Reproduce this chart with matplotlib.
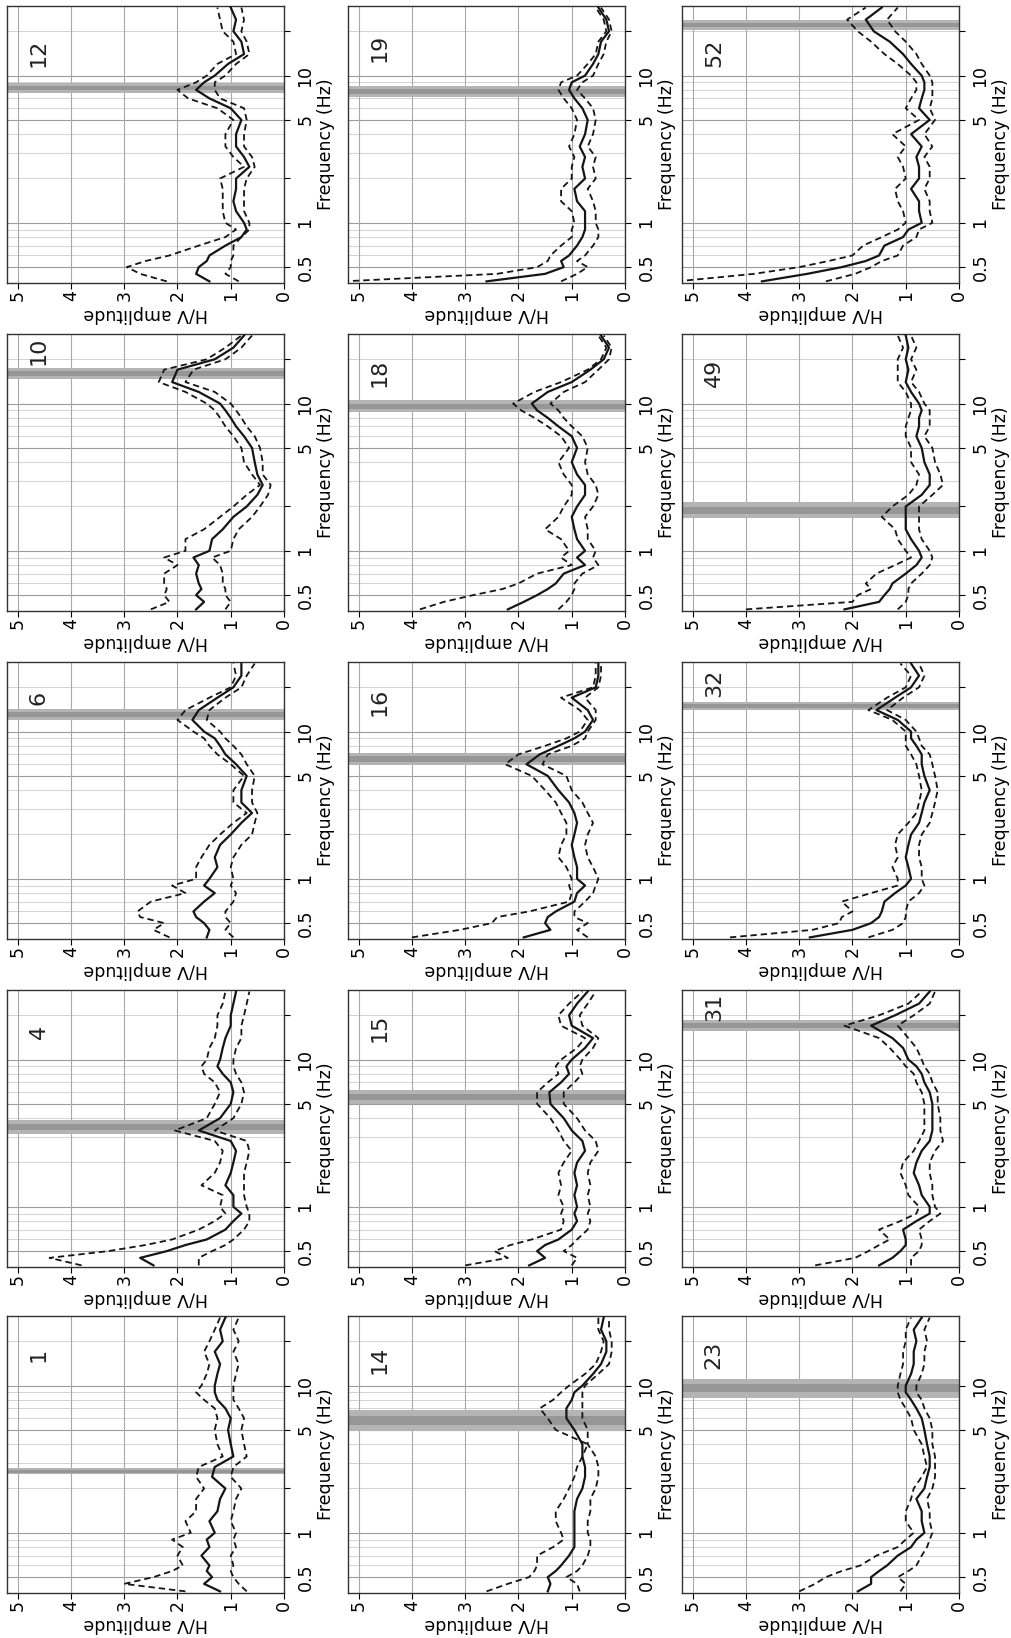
import numpy as np
import matplotlib
matplotlib.use('Agg')
import matplotlib.pyplot as plt
from matplotlib.ticker import NullLocator

plt.rcParams['font.family'] = ['DejaVu Sans']

# frequency samples (Hz) shared by all curves
freq = [0.4, 0.45, 0.5, 0.55, 0.6, 0.7, 0.8, 0.9, 1.0, 1.2, 1.4, 1.7, 2.0, 2.4, 2.8,
        3.3, 4.0, 5.0, 6.0, 7.0, 8.0, 9.0, 10, 12, 14, 17, 20, 24, 29]

# H/V mean, mean+std, mean-std for each site
mean_01 = [1.2, 1.5, 1.35, 1.45, 1.4, 1.55, 1.4, 1.45, 1.3, 1.4, 1.25, 1.2, 1.1, 1.35, 1.3, 0.95, 1.0, 1.05, 1.0, 1.1, 1.25, 1.3, 1.3, 1.25, 1.2, 1.3, 1.15, 1.2, 1.1]
upper_01 = [1.85, 3.0, 2.45, 2.1, 1.9, 2.0, 1.9, 2.1, 1.75, 1.85, 1.65, 1.65, 1.5, 1.65, 1.6, 1.15, 1.25, 1.3, 1.25, 1.3, 1.5, 1.65, 1.55, 1.45, 1.4, 1.5, 1.4, 1.3, 1.2]
lower_01 = [0.7, 0.85, 0.95, 1.0, 0.95, 1.0, 0.9, 0.95, 0.9, 1.0, 0.95, 0.9, 0.8, 1.0, 0.95, 0.7, 0.75, 0.8, 0.75, 0.85, 0.95, 0.95, 0.95, 0.9, 0.85, 0.95, 0.85, 0.95, 0.85]

mean_04 = [2.45, 2.7, 2.2, 1.85, 1.45, 1.1, 0.95, 0.8, 0.95, 0.95, 1.1, 1.0, 0.95, 0.9, 1.0, 1.6, 1.2, 1.0, 0.95, 1.0, 1.15, 1.25, 1.2, 1.15, 1.1, 1.0, 1.0, 0.95, 0.9]
upper_04 = [3.8, 4.4, 3.3, 2.6, 2.1, 1.6, 1.3, 1.1, 1.2, 1.15, 1.55, 1.3, 1.2, 1.15, 1.3, 2.05, 1.45, 1.3, 1.2, 1.3, 1.5, 1.55, 1.45, 1.4, 1.3, 1.25, 1.25, 1.15, 1.1]
lower_04 = [1.6, 1.6, 1.35, 1.1, 0.95, 0.75, 0.65, 0.65, 0.7, 0.75, 0.75, 0.75, 0.7, 0.65, 0.7, 1.3, 0.95, 0.8, 0.75, 0.8, 0.9, 0.95, 0.95, 0.9, 0.8, 0.8, 0.75, 0.7, 0.65]

mean_06 = [1.45, 1.4, 1.5, 1.65, 1.7, 1.5, 1.3, 1.5, 1.4, 1.25, 1.3, 1.2, 1.0, 0.8, 0.6, 0.8, 0.8, 0.7, 0.9, 1.1, 1.2, 1.3, 1.5, 1.72, 1.6, 1.25, 0.95, 0.8, 0.8]
upper_06 = [2.15, 2.45, 2.25, 2.7, 2.75, 2.5, 1.85, 2.1, 1.65, 1.65, 1.55, 1.4, 1.2, 0.95, 0.7, 0.95, 0.95, 0.75, 1.0, 1.25, 1.4, 1.5, 1.7, 2.0, 1.85, 1.4, 1.0, 0.9, 0.95]
lower_06 = [0.95, 1.1, 1.0, 1.1, 1.1, 0.95, 0.9, 1.0, 0.95, 1.0, 0.95, 0.8, 0.6, 0.55, 0.5, 0.6, 0.6, 0.55, 0.7, 0.8, 0.95, 1.1, 1.2, 1.45, 1.4, 1.1, 0.8, 0.7, 0.55]

mean_10 = [1.65, 1.5, 1.65, 1.55, 1.6, 1.65, 1.6, 1.7, 1.4, 1.35, 1.15, 0.95, 0.7, 0.5, 0.4, 0.5, 0.55, 0.6, 0.75, 0.9, 1.0, 1.1, 1.2, 1.6, 2.1, 2.0, 1.3, 0.95, 0.75]
upper_10 = [2.5, 2.15, 2.25, 2.2, 2.25, 2.25, 2.0, 2.25, 1.85, 1.85, 1.5, 1.2, 0.95, 0.7, 0.45, 0.6, 0.75, 0.8, 0.95, 1.1, 1.2, 1.3, 1.45, 1.85, 2.35, 2.25, 1.45, 1.1, 0.8]
lower_10 = [1.1, 1.0, 1.1, 1.1, 1.15, 1.15, 1.2, 1.35, 1.0, 0.95, 0.85, 0.6, 0.45, 0.3, 0.25, 0.4, 0.4, 0.45, 0.55, 0.7, 0.8, 0.9, 1.0, 1.3, 1.85, 1.7, 1.1, 0.8, 0.6]

mean_12 = [1.4, 1.65, 1.6, 1.45, 1.4, 1.1, 0.8, 0.7, 0.75, 0.9, 0.95, 0.9, 0.9, 0.65, 0.75, 0.9, 0.9, 0.8, 1.0, 1.4, 1.65, 1.5, 1.3, 1.05, 0.75, 0.8, 0.95, 0.9, 1.0]
upper_12 = [2.2, 2.7, 2.95, 2.6, 2.15, 1.6, 1.1, 0.9, 1.1, 1.15, 1.15, 1.15, 1.2, 0.75, 0.95, 1.1, 1.1, 0.95, 1.25, 1.8, 2.0, 1.65, 1.45, 1.25, 0.9, 0.95, 1.15, 1.2, 1.25]
lower_12 = [0.85, 1.1, 1.0, 1.0, 0.95, 0.95, 0.8, 0.65, 0.65, 0.75, 0.75, 0.75, 0.7, 0.55, 0.6, 0.75, 0.75, 0.7, 0.75, 1.2, 1.3, 1.3, 1.1, 0.9, 0.65, 0.7, 0.8, 0.75, 0.8]

mean_14 = [1.45, 1.4, 1.45, 1.3, 1.2, 1.05, 0.95, 0.95, 0.95, 0.95, 0.95, 0.9, 0.8, 0.75, 0.75, 0.8, 0.8, 0.95, 1.1, 1.1, 1.0, 0.95, 0.8, 0.6, 0.45, 0.35, 0.35, 0.45, 0.4]
upper_14 = [2.6, 2.2, 1.8, 1.7, 1.65, 1.65, 1.35, 1.15, 1.2, 1.3, 1.3, 1.15, 1.05, 0.95, 0.9, 0.8, 0.7, 1.3, 1.45, 1.6, 1.35, 1.2, 1.05, 0.75, 0.55, 0.45, 0.4, 0.5, 0.5]
lower_14 = [0.85, 0.9, 1.1, 0.9, 0.8, 0.7, 0.65, 0.65, 0.7, 0.7, 0.65, 0.65, 0.55, 0.5, 0.5, 0.55, 0.7, 0.7, 0.8, 0.8, 0.8, 0.8, 0.75, 0.5, 0.3, 0.25, 0.25, 0.3, 0.3]

mean_15 = [1.8, 1.5, 1.65, 1.5, 1.25, 1.0, 0.9, 0.95, 0.9, 0.95, 0.9, 0.95, 0.9, 0.75, 0.8, 1.0, 1.15, 1.4, 1.42, 1.2, 1.05, 1.1, 1.0, 0.75, 0.6, 1.0, 1.05, 0.9, 0.7]
upper_15 = [3.0, 2.2, 2.45, 2.15, 1.75, 1.2, 1.15, 1.2, 1.15, 1.25, 1.2, 1.25, 1.15, 1.0, 1.15, 1.25, 1.4, 1.65, 1.65, 1.45, 1.25, 1.3, 1.2, 0.9, 0.75, 1.2, 1.25, 1.05, 0.8]
lower_15 = [1.0, 0.9, 1.15, 1.0, 0.9, 0.7, 0.65, 0.7, 0.65, 0.7, 0.65, 0.7, 0.65, 0.5, 0.55, 0.75, 0.9, 1.15, 1.15, 0.95, 0.8, 0.85, 0.8, 0.6, 0.5, 0.8, 0.85, 0.7, 0.55]

mean_16 = [1.9, 1.4, 1.5, 1.45, 1.3, 0.95, 0.9, 0.75, 0.9, 0.9, 0.95, 1.0, 0.95, 0.9, 0.95, 1.05, 1.25, 1.45, 1.85, 1.6, 1.25, 0.95, 0.75, 0.6, 0.7, 1.0, 0.55, 0.5, 0.5]
upper_16 = [4.0, 3.1, 2.5, 2.4, 1.8, 1.05, 1.0, 1.05, 1.0, 1.1, 1.25, 1.2, 1.1, 1.1, 1.2, 1.3, 1.5, 1.75, 2.25, 2.0, 1.5, 1.1, 0.85, 0.7, 0.85, 1.2, 0.6, 0.55, 0.55]
lower_16 = [0.7, 0.9, 0.7, 0.95, 0.95, 0.75, 0.6, 0.55, 0.5, 0.6, 0.7, 0.75, 0.7, 0.6, 0.7, 0.8, 1.0, 1.1, 1.55, 1.45, 1.0, 0.75, 0.7, 0.55, 0.55, 0.75, 0.5, 0.45, 0.45]

mean_18 = [2.2, 1.9, 1.65, 1.45, 1.3, 1.15, 0.75, 0.9, 0.75, 0.9, 0.95, 1.0, 0.9, 0.75, 0.75, 0.9, 1.0, 0.9, 1.0, 1.25, 1.45, 1.65, 1.75, 1.45, 1.0, 0.65, 0.4, 0.3, 0.45]
upper_18 = [3.85, 3.4, 2.85, 2.3, 2.0, 1.65, 1.0, 1.2, 1.05, 1.2, 1.5, 1.25, 1.15, 1.0, 1.0, 1.15, 1.25, 1.05, 1.2, 1.45, 1.7, 1.95, 2.1, 1.7, 1.2, 0.7, 0.45, 0.35, 0.5]
lower_18 = [1.25, 1.1, 1.0, 0.95, 0.95, 0.8, 0.5, 0.6, 0.55, 0.7, 0.7, 0.75, 0.6, 0.5, 0.55, 0.7, 0.75, 0.7, 0.8, 1.0, 1.15, 1.25, 1.4, 1.15, 0.75, 0.5, 0.3, 0.25, 0.4]

mean_19 = [2.6, 1.5, 1.15, 1.2, 1.05, 0.9, 0.8, 0.75, 0.75, 0.75, 0.9, 0.95, 0.75, 0.8, 0.75, 0.85, 0.75, 0.7, 0.8, 0.95, 1.05, 1.0, 0.75, 0.6, 0.5, 0.45, 0.3, 0.35, 0.5]
upper_19 = [5.3, 2.4, 1.65, 1.45, 1.4, 1.2, 1.0, 1.0, 0.95, 1.0, 1.2, 1.2, 1.0, 1.0, 0.95, 1.05, 0.95, 0.9, 1.0, 1.15, 1.25, 1.2, 0.9, 0.7, 0.55, 0.5, 0.35, 0.4, 0.55]
lower_19 = [1.2, 0.9, 0.7, 0.9, 0.75, 0.6, 0.5, 0.5, 0.55, 0.55, 0.6, 0.7, 0.55, 0.6, 0.55, 0.7, 0.6, 0.55, 0.6, 0.75, 0.9, 0.8, 0.6, 0.5, 0.4, 0.35, 0.25, 0.3, 0.45]

mean_23 = [1.9, 1.65, 1.65, 1.5, 1.35, 1.15, 0.9, 0.8, 0.65, 0.7, 0.7, 0.8, 0.65, 0.6, 0.55, 0.55, 0.6, 0.65, 0.7, 0.8, 0.9, 1.0, 1.0, 0.9, 0.85, 0.85, 0.8, 0.85, 0.7]
upper_23 = [3.0, 2.7, 2.5, 2.2, 1.85, 1.55, 1.15, 1.0, 0.85, 1.0, 1.0, 0.9, 0.85, 0.7, 0.6, 0.65, 0.7, 0.85, 0.9, 1.0, 1.1, 1.15, 1.15, 1.1, 1.05, 1.05, 1.0, 1.0, 0.9]
lower_23 = [1.1, 1.0, 1.15, 0.95, 0.8, 0.7, 0.6, 0.55, 0.5, 0.55, 0.55, 0.6, 0.5, 0.45, 0.45, 0.45, 0.5, 0.5, 0.55, 0.65, 0.7, 0.8, 0.8, 0.7, 0.65, 0.65, 0.6, 0.65, 0.55]

mean_31 = [1.5, 1.25, 1.1, 1.0, 1.0, 1.05, 0.8, 0.55, 0.55, 0.7, 0.75, 0.85, 0.8, 0.7, 0.55, 0.5, 0.5, 0.5, 0.55, 0.65, 0.7, 0.8, 0.95, 1.05, 1.25, 1.65, 1.2, 0.75, 0.55]
upper_31 = [2.7, 1.95, 1.7, 1.5, 1.3, 1.5, 1.1, 0.8, 0.75, 0.95, 1.0, 1.1, 1.05, 0.85, 0.75, 0.65, 0.65, 0.65, 0.7, 0.8, 0.85, 1.0, 1.1, 1.3, 1.5, 2.15, 1.5, 0.95, 0.7]
lower_31 = [0.9, 0.9, 0.75, 0.7, 0.7, 0.75, 0.55, 0.35, 0.45, 0.5, 0.5, 0.55, 0.55, 0.45, 0.3, 0.35, 0.35, 0.4, 0.4, 0.5, 0.55, 0.65, 0.7, 0.8, 0.95, 1.15, 0.85, 0.55, 0.45]

mean_32 = [2.8, 2.0, 1.65, 1.5, 1.45, 1.4, 1.2, 1.0, 0.9, 0.95, 1.0, 0.95, 0.9, 0.75, 0.7, 0.65, 0.55, 0.65, 0.7, 0.7, 0.8, 0.9, 0.9, 1.15, 1.55, 1.2, 0.9, 0.75, 0.9]
upper_32 = [4.3, 2.75, 2.25, 2.2, 2.0, 2.2, 1.65, 1.15, 1.15, 1.25, 1.15, 1.2, 1.15, 0.95, 0.8, 0.75, 0.7, 0.75, 0.8, 0.9, 1.0, 1.0, 1.0, 1.25, 1.7, 1.35, 1.0, 0.9, 1.1]
lower_32 = [1.7, 1.25, 1.05, 1.0, 1.0, 0.95, 0.75, 0.65, 0.7, 0.7, 0.75, 0.75, 0.7, 0.55, 0.5, 0.45, 0.4, 0.45, 0.5, 0.55, 0.7, 0.75, 0.8, 1.0, 1.35, 1.05, 0.75, 0.65, 0.75]

mean_49 = [2.15, 1.5, 1.4, 1.3, 1.25, 1.0, 0.8, 0.7, 0.75, 0.9, 1.0, 1.0, 1.0, 0.7, 0.55, 0.55, 0.65, 0.7, 0.8, 0.75, 0.75, 0.7, 0.75, 0.9, 1.0, 0.95, 1.0, 0.95, 1.0]
upper_49 = [4.0, 2.0, 1.9, 1.65, 1.75, 1.55, 1.2, 0.9, 1.0, 1.15, 1.2, 1.45, 1.25, 0.95, 0.8, 0.75, 0.9, 0.9, 1.0, 1.0, 0.95, 0.9, 0.9, 1.0, 1.15, 1.15, 1.15, 1.05, 1.15]
lower_49 = [1.15, 1.0, 0.95, 0.95, 0.9, 0.7, 0.55, 0.5, 0.55, 0.7, 0.75, 0.75, 0.75, 0.5, 0.3, 0.35, 0.45, 0.5, 0.65, 0.55, 0.55, 0.55, 0.65, 0.75, 0.9, 0.8, 0.9, 0.8, 0.9]

mean_52 = [3.7, 2.85, 2.2, 1.75, 1.5, 1.4, 1.05, 0.95, 0.7, 0.75, 0.75, 0.9, 0.75, 0.75, 0.8, 0.7, 0.9, 0.55, 0.75, 0.7, 0.65, 0.65, 0.7, 0.9, 1.05, 1.3, 1.6, 1.75, 1.45]
upper_52 = [5.3, 3.85, 3.0, 2.45, 2.0, 1.8, 1.45, 1.15, 1.0, 1.05, 1.15, 1.2, 1.0, 1.05, 1.15, 1.0, 1.25, 0.75, 1.0, 0.9, 0.8, 0.8, 0.9, 1.15, 1.4, 1.65, 1.9, 2.1, 1.75]
lower_52 = [2.5, 1.95, 1.65, 1.45, 1.15, 1.05, 0.8, 0.75, 0.5, 0.55, 0.55, 0.65, 0.55, 0.55, 0.65, 0.5, 0.65, 0.45, 0.55, 0.5, 0.5, 0.5, 0.55, 0.7, 0.8, 1.0, 1.2, 1.35, 1.15]

# peak frequency range (Hz) per site
peak_lo = {1: 2.5, 4: 3.1, 6: 11.9, 10: 14.6, 12: 7.6, 14: 4.9, 15: 5.0, 16: 5.9,
           18: 8.8, 19: 7.1, 23: 8.3, 31: 15.6, 32: 14.0, 49: 1.67, 52: 20.4}
peak_hi = {1: 2.75, 4: 3.9, 6: 14.2, 10: 17.4, 12: 8.9, 14: 6.8, 15: 6.2, 16: 7.2,
           18: 10.5, 19: 8.5, 23: 11.1, 31: 18.6, 32: 16.0, 49: 2.13, 52: 24.0}

curves = {
    1: (mean_01, upper_01, lower_01), 4: (mean_04, upper_04, lower_04),
    6: (mean_06, upper_06, lower_06), 10: (mean_10, upper_10, lower_10),
    12: (mean_12, upper_12, lower_12), 14: (mean_14, upper_14, lower_14),
    15: (mean_15, upper_15, lower_15), 16: (mean_16, upper_16, lower_16),
    18: (mean_18, upper_18, lower_18), 19: (mean_19, upper_19, lower_19),
    23: (mean_23, upper_23, lower_23), 31: (mean_31, upper_31, lower_31),
    32: (mean_32, upper_32, lower_32), 49: (mean_49, upper_49, lower_49),
    52: (mean_52, upper_52, lower_52),
}

# page layout (figure is the landscape original turned 90 degrees)
layout = [[12, 19, 52],
          [10, 18, 49],
          [6, 16, 32],
          [4, 15, 31],
          [1, 14, 23]]
label_y = {1: 0.14, 4: 0.15, 6: 0.13, 10: 0.06, 12: 0.17, 14: 0.16, 15: 0.135, 16: 0.145,
           18: 0.14, 19: 0.15, 23: 0.14, 31: 0.06, 32: 0.075, 49: 0.14, 52: 0.17}

W, H = 1011, 1638
col_left = [7, 348, 682]
row_top = [6, 334, 662, 990, 1316]
box_w, box_h = 277, 277

fig = plt.figure(figsize=(W / 100, H / 100), dpi=100)

for r, row in enumerate(layout):
    for c, site in enumerate(row):
        ax = fig.add_axes([col_left[c] / W, 1 - (row_top[r] + box_h) / H, box_w / W, box_h / H])
        ax.set_yscale('log')
        ax.set_ylim(0.39, 29.7)
        ax.set_xlim(5.2, 0)
        ax.set_axisbelow(True)

        # grid
        ax.set_xticks([0, 1, 2, 3, 4, 5])
        ax.grid(axis='x', color='#a8a8a8', lw=0.8)
        for f in [0.6, 0.7, 0.8, 0.9, 2, 3, 4, 6, 7, 8, 9, 20]:
            ax.axhline(f, color='#cccccc', lw=0.6, zorder=0.4)
        for f in [0.5, 1, 5, 10]:
            ax.axhline(f, color='#9c9c9c', lw=0.8, zorder=0.5)

        # peak band
        lo, hi = peak_lo[site], peak_hi[site]
        mid = np.sqrt(lo * hi)
        k = (hi / lo) ** 0.22
        ax.axhspan(lo, hi, color='#b4b4b4', lw=0, zorder=1)
        ax.axhspan(mid / k, mid * k, color='#969696', lw=0, zorder=1.1)

        m, u, l = curves[site]
        ax.plot(m, freq, color='#151515', lw=1.6, zorder=3)
        ax.plot(u, freq, color='#151515', lw=1.3, dashes=(3.5, 2.2), zorder=3)
        ax.plot(l, freq, color='#151515', lw=1.3, dashes=(3.5, 2.2), zorder=3)

        # ticks
        ax.set_xticklabels(['0', '1', '2', '3', '4', '5'], rotation=90)
        ax.tick_params(axis='x', direction='out', length=4, pad=1, labelsize=12.5)
        ax.yaxis.tick_right()
        ax.set_yticks([0.5, 1, 2, 5, 10, 20])
        ax.set_yticklabels(['0.5', '1', '', '5', '10', ''], rotation=90, va='center')
        ax.yaxis.set_minor_locator(NullLocator())
        ax.tick_params(axis='y', direction='out', length=4, pad=5, labelsize=12.5)

        ax.set_xlabel('H/V amplitude', rotation=180, fontsize=12.5, labelpad=3)
        ax.yaxis.set_label_position('right')
        ax.set_ylabel('Frequency (Hz)', rotation=90, fontsize=12.5, labelpad=2)

        for s in ax.spines.values():
            s.set_linewidth(1.0)
            s.set_color('#333333')

        ax.text(0.115, 1 - label_y[site], str(site), transform=ax.transAxes,
                rotation=90, ha='center', va='center', fontsize=16, color='#222222')

fig.savefig('out.png', dpi=100)
